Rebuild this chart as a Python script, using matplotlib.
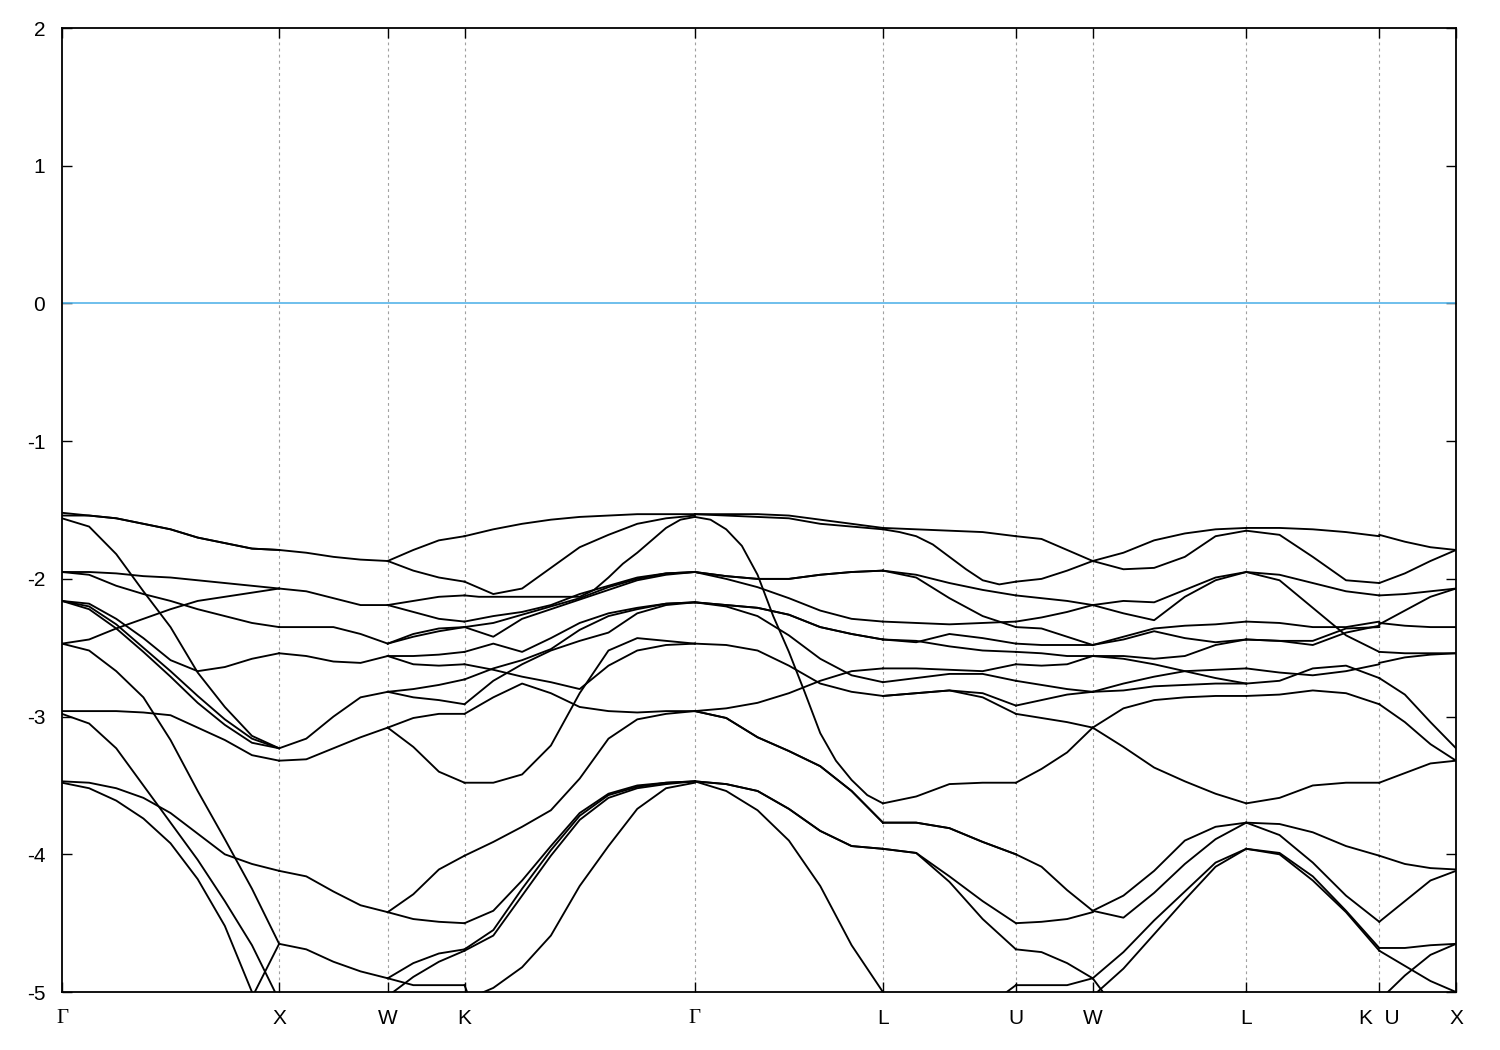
import numpy as np
import matplotlib
matplotlib.use("Agg")
import matplotlib.pyplot as plt

plt.rcParams['font.family'] = ['Liberation Sans', 'DejaVu Sans']
plt.rcParams['axes.unicode_minus'] = False

# high-symmetry points along the fcc path (units of 2pi/a)
kpoints = [0.0, 1.0, 1.5, 1.8536, 2.9142, 3.7803, 4.3926, 4.7462, 5.4533, 6.0657, 6.4192]
klabels = ['Γ', 'X', 'W', 'K', 'Γ', 'L', 'U', 'W', 'L', 'K  U', 'X']

# band energies (eV, E_F = 0), each band sampled evenly along its segment
gamma_x = [
    [-1.52, -1.54, -1.56, -1.60, -1.64, -1.70, -1.74, -1.78, -1.79],
    [-1.54, -1.54, -1.56, -1.60, -1.64, -1.70, -1.74, -1.78, -1.79],
    [-1.56, -1.62, -1.82, -2.09, -2.35, -2.68, -2.93, -3.14, -3.23],
    [-1.95, -1.95, -1.96, -1.98, -1.99, -2.01, -2.03, -2.05, -2.07],
    [-1.95, -1.97, -2.05, -2.11, -2.16, -2.22, -2.27, -2.32, -2.35],
    [-2.16, -2.18, -2.29, -2.43, -2.59, -2.67, -2.64, -2.58, -2.54],
    [-2.16, -2.20, -2.33, -2.50, -2.67, -2.85, -3.02, -3.16, -3.23],
    [-2.16, -2.22, -2.36, -2.53, -2.71, -2.90, -3.06, -3.19, -3.23],
    [-2.47, -2.44, -2.36, -2.29, -2.22, -2.16, -2.13, -2.10, -2.07],
    [-2.47, -2.52, -2.67, -2.86, -3.17, -3.54, -3.89, -4.25, -4.65],
    [-2.96, -2.96, -2.96, -2.97, -2.99, -3.08, -3.17, -3.28, -3.32],
    [-2.98, -3.05, -3.23, -3.50, -3.77, -4.04, -4.34, -4.66, -5.06],
    [-3.47, -3.48, -3.52, -3.59, -3.70, -3.85, -4.00, -4.07, -4.12],
    [-3.48, -3.52, -3.61, -3.74, -3.92, -4.18, -4.52, -5.00, -5.50],
    [-6.20, -6.10, -6.00, -5.90, -5.80, -5.65, -5.42, -5.04, -4.65],
]
x_w = [
    [-1.79, -1.81, -1.84, -1.86, -1.87],
    [-2.07, -2.09, -2.14, -2.19, -2.19],
    [-2.35, -2.35, -2.35, -2.40, -2.47],
    [-2.54, -2.56, -2.60, -2.61, -2.56],
    [-3.23, -3.16, -3.00, -2.86, -2.82],
    [-3.32, -3.31, -3.23, -3.15, -3.08],
    [-4.12, -4.16, -4.27, -4.37, -4.42],
    [-4.65, -4.69, -4.78, -4.85, -4.90],
]
w_k = [
    [-1.87, -1.79, -1.72, -1.69],
    [-1.87, -1.94, -1.99, -2.02],
    [-2.19, -2.16, -2.13, -2.12],
    [-2.19, -2.24, -2.29, -2.31],
    [-2.47, -2.40, -2.36, -2.35],
    [-2.47, -2.42, -2.38, -2.35],
    [-2.56, -2.56, -2.55, -2.53],
    [-2.56, -2.62, -2.63, -2.62],
    [-2.82, -2.80, -2.77, -2.73],
    [-2.82, -2.86, -2.88, -2.91],
    [-3.08, -3.01, -2.98, -2.98],
    [-3.08, -3.22, -3.40, -3.48],
    [-4.42, -4.29, -4.11, -4.01],
    [-4.42, -4.47, -4.49, -4.50],
    [-4.90, -4.79, -4.72, -4.69],
    [-4.90, -4.95, -4.95, -4.95],
    [-5.03, -4.89, -4.78, -4.70],
]
k_gamma = [
    [-1.69, -1.64, -1.60, -1.57, -1.55, -1.54, -1.53, -1.53, -1.53],
    [-2.02, -2.11, -2.07, -1.92, -1.77, -1.68, -1.60, -1.56, -1.54],
    [-2.12, -2.13, -2.13, -2.13, -2.13, -2.13, -2.13, -2.13, -2.13,
     -2.08, -1.99, -1.89, -1.81, -1.72, -1.63, -1.57, -1.55],
    [-2.31, -2.27, -2.24, -2.19, -2.11, -2.05, -1.99, -1.96, -1.95],
    [-2.35, -2.32, -2.26, -2.20, -2.14, -2.06, -2.00, -1.96, -1.95],
    [-2.35, -2.42, -2.29, -2.22, -2.15, -2.08, -2.01, -1.97, -1.95],
    [-2.53, -2.47, -2.53, -2.43, -2.32, -2.25, -2.21, -2.18, -2.17],
    [-2.62, -2.66, -2.71, -2.75, -2.80, -2.63, -2.52, -2.48, -2.47],
    [-2.73, -2.65, -2.59, -2.51, -2.37, -2.27, -2.22, -2.18, -2.17],
    [-2.91, -2.74, -2.62, -2.52, -2.45, -2.39, -2.25, -2.19, -2.17],
    [-2.98, -2.86, -2.76, -2.83, -2.93, -2.96, -2.97, -2.96, -2.96],
    [-3.48, -3.48, -3.42, -3.21, -2.83, -2.52, -2.43, -2.45, -2.47],
    [-4.01, -3.91, -3.80, -3.68, -3.45, -3.16, -3.02, -2.98, -2.96],
    [-4.50, -4.41, -4.19, -3.94, -3.70, -3.56, -3.50, -3.48, -3.47],
    [-4.69, -4.55, -4.25, -3.97, -3.72, -3.57, -3.51, -3.48, -3.47],
    [-4.70, -4.59, -4.30, -4.01, -3.75, -3.59, -3.52, -3.49, -3.47],
    [-5.06, -4.97, -4.82, -4.59, -4.23, -3.94, -3.67, -3.52, -3.48],
    [-4.95, -5.50, -5.80, -6.00, -6.20, -6.30, -6.40, -6.40, -6.40],
]
gamma_l = [
    [-1.53, -1.53, -1.53, -1.54, -1.57, -1.60, -1.63],
    [-1.53, -1.54, -1.55, -1.56, -1.60, -1.62, -1.64],
    [-1.55, -1.57, -1.64, -1.76, -1.97, -2.27, -2.53,
     -2.82, -3.12, -3.32, -3.46, -3.57, -3.63],
    [-1.95, -1.98, -2.00, -2.00, -1.97, -1.95, -1.94],
    [-1.95, -1.98, -2.00, -2.00, -1.97, -1.95, -1.94],
    [-1.95, -2.00, -2.06, -2.14, -2.23, -2.29, -2.31],
    [-2.17, -2.19, -2.21, -2.26, -2.35, -2.40, -2.44],
    [-2.17, -2.19, -2.21, -2.26, -2.35, -2.40, -2.44],
    [-2.17, -2.20, -2.27, -2.41, -2.58, -2.70, -2.75],
    [-2.47, -2.48, -2.52, -2.63, -2.76, -2.82, -2.85],
    [-2.96, -2.94, -2.90, -2.83, -2.74, -2.67, -2.65],
    [-2.96, -3.01, -3.15, -3.25, -3.36, -3.54, -3.77],
    [-2.96, -3.01, -3.15, -3.25, -3.36, -3.54, -3.77],
    [-3.47, -3.49, -3.54, -3.67, -3.83, -3.94, -3.96],
    [-3.47, -3.49, -3.54, -3.67, -3.83, -3.94, -3.96],
    [-3.47, -3.54, -3.68, -3.90, -4.23, -4.66, -5.00],
]
l_u = [
    [-1.63, -1.64, -1.65, -1.66, -1.69],
    [-1.64, -1.66, -1.69, -1.75, -1.84, -1.93, -2.01, -2.04, -2.02],
    [-1.94, -1.97, -2.03, -2.08, -2.12],
    [-1.94, -1.99, -2.14, -2.27, -2.35],
    [-2.31, -2.32, -2.33, -2.32, -2.31],
    [-2.44, -2.45, -2.49, -2.52, -2.53],
    [-2.44, -2.46, -2.40, -2.43, -2.47],
    [-2.65, -2.65, -2.66, -2.67, -2.62],
    [-2.75, -2.72, -2.69, -2.69, -2.74],
    [-2.85, -2.83, -2.81, -2.83, -2.92],
    [-2.85, -2.83, -2.81, -2.86, -2.98],
    [-3.63, -3.58, -3.49, -3.48, -3.48],
    [-3.77, -3.77, -3.81, -3.91, -4.00],
    [-3.77, -3.77, -3.81, -3.91, -4.00],
    [-3.96, -3.99, -4.16, -4.34, -4.50],
    [-3.96, -3.99, -4.20, -4.47, -4.69],
    [-5.00, -5.28, -5.35, -5.13, -4.95],
]
u_w = [
    [-1.69, -1.71, -1.79, -1.87],
    [-2.02, -2.00, -1.94, -1.87],
    [-2.12, -2.14, -2.16, -2.19],
    [-2.31, -2.28, -2.24, -2.19],
    [-2.35, -2.36, -2.42, -2.48],
    [-2.47, -2.48, -2.48, -2.48],
    [-2.53, -2.54, -2.56, -2.56],
    [-2.62, -2.63, -2.62, -2.56],
    [-2.74, -2.77, -2.80, -2.82],
    [-2.92, -2.88, -2.84, -2.82],
    [-2.98, -3.01, -3.04, -3.08],
    [-3.48, -3.38, -3.26, -3.08],
    [-4.00, -4.09, -4.26, -4.41],
    [-4.50, -4.49, -4.47, -4.42],
    [-4.69, -4.71, -4.79, -4.90],
    [-4.95, -4.95, -4.95, -4.90],
]
w_l = [
    [-1.87, -1.81, -1.72, -1.67, -1.64, -1.63],
    [-1.87, -1.93, -1.92, -1.84, -1.69, -1.65],
    [-2.19, -2.16, -2.17, -2.08, -1.99, -1.95],
    [-2.19, -2.25, -2.30, -2.13, -2.01, -1.95],
    [-2.48, -2.42, -2.36, -2.34, -2.33, -2.31],
    [-2.48, -2.44, -2.38, -2.43, -2.46, -2.44],
    [-2.56, -2.56, -2.58, -2.56, -2.48, -2.44],
    [-2.56, -2.58, -2.62, -2.67, -2.72, -2.76],
    [-2.82, -2.76, -2.71, -2.67, -2.66, -2.65],
    [-2.82, -2.81, -2.78, -2.77, -2.76, -2.76],
    [-3.08, -2.94, -2.88, -2.86, -2.85, -2.85],
    [-3.08, -3.22, -3.37, -3.47, -3.56, -3.63],
    [-4.41, -4.30, -4.12, -3.90, -3.80, -3.77],
    [-4.41, -4.46, -4.28, -4.07, -3.89, -3.77],
    [-4.90, -4.71, -4.48, -4.27, -4.06, -3.96],
    [-5.03, -4.83, -4.58, -4.33, -4.09, -3.96],
    [-4.90, -5.20, -5.40, -5.40, -5.20, -5.00],
]
l_k = [
    [-1.63, -1.63, -1.64, -1.66, -1.69],
    [-1.65, -1.68, -1.84, -2.01, -2.03],
    [-1.95, -1.97, -2.03, -2.09, -2.12],
    [-1.95, -2.01, -2.21, -2.41, -2.53],
    [-2.31, -2.32, -2.35, -2.35, -2.31],
    [-2.44, -2.45, -2.48, -2.39, -2.34],
    [-2.44, -2.45, -2.45, -2.36, -2.35],
    [-2.65, -2.68, -2.70, -2.67, -2.62],
    [-2.76, -2.74, -2.65, -2.63, -2.72],
    [-2.85, -2.84, -2.81, -2.83, -2.91],
    [-3.63, -3.59, -3.50, -3.48, -3.48],
    [-3.77, -3.78, -3.84, -3.94, -4.01],
    [-3.77, -3.86, -4.06, -4.30, -4.49],
    [-3.96, -3.99, -4.16, -4.41, -4.68],
    [-3.96, -4.00, -4.19, -4.42, -4.70],
    [-5.00, -5.30, -5.40, -5.30, -5.06],
]
u_x = [
    [-1.68, -1.73, -1.77, -1.79],
    [-2.03, -1.96, -1.87, -1.79],
    [-2.12, -2.11, -2.09, -2.07],
    [-2.33, -2.23, -2.13, -2.07],
    [-2.32, -2.34, -2.35, -2.35],
    [-2.53, -2.54, -2.54, -2.54],
    [-2.61, -2.57, -2.55, -2.54],
    [-2.72, -2.84, -3.04, -3.23],
    [-2.91, -3.04, -3.20, -3.32],
    [-3.48, -3.41, -3.34, -3.32],
    [-4.01, -4.07, -4.10, -4.11],
    [-4.49, -4.34, -4.19, -4.12],
    [-4.68, -4.68, -4.66, -4.65],
    [-4.70, -4.81, -4.92, -5.00],
    [-5.06, -4.88, -4.73, -4.65],
]

segments = [gamma_x, x_w, w_k, k_gamma, gamma_l, l_u, u_w, w_l, l_k, u_x]

fig, ax = plt.subplots(figsize=(15, 10.5), dpi=100)
fig.subplots_adjust(left=0.0413, right=0.9707, bottom=0.0552, top=0.9733)

for i, seg in enumerate(segments):
    for band in seg:
        k = np.linspace(kpoints[i], kpoints[i + 1], len(band))
        ax.plot(k, band, color='black', lw=1.35, zorder=3,
                solid_joinstyle='round')

# special-point guides and Fermi level
for kp in kpoints[1:-1]:
    ax.axvline(kp, color='#a0a0a0', lw=0.8, ls=(0, (2.5, 3)), zorder=1)
ax.axhline(0, color='#56b4e9', lw=1.2, zorder=2)

ax.set_xlim(kpoints[0], kpoints[-1])
ax.set_ylim(-5, 2)
ax.set_yticks(range(-5, 3))
ax.set_xticks(kpoints)
ax.set_xticklabels(klabels)
for lab in ax.get_xticklabels():
    if lab.get_text() == 'Γ':
        lab.set_family(['Liberation Serif', 'DejaVu Serif'])

ax.tick_params(direction='in', length=7, width=1, top=True, right=True,
               labelsize=15)
ax.tick_params(axis='x', pad=12)
ax.tick_params(axis='y', pad=12)
for sp in ax.spines.values():
    sp.set_linewidth(1.3)

fig.savefig('out.png', dpi=100, facecolor='white')
